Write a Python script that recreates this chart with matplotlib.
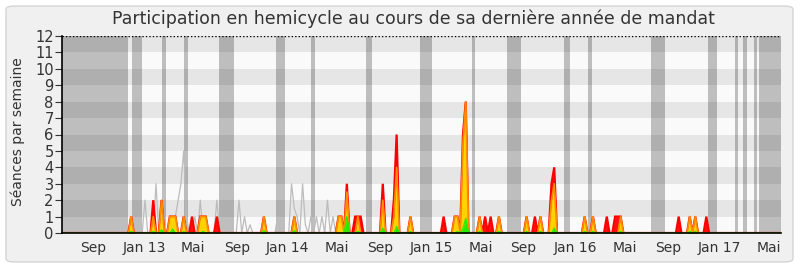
import numpy as np
import matplotlib
matplotlib.use("Agg")
import matplotlib.pyplot as plt
from matplotlib.patches import FancyBboxPatch

# ---- data (weekly values, week index since start of the mandate) ----
n_weeks = 261

presence_weeks = [25, 33, 36, 39, 40, 41, 44, 47, 50, 51, 52, 56,
                  73, 84, 100, 101, 103, 106, 107, 108,
                  116, 120, 121, 126, 138, 142, 143, 145, 146, 151, 153, 155, 158,
                  168, 171, 173, 177, 178, 189, 192, 197, 200, 201, 202,
                  223, 227, 229, 233]
presence_vals = [1, 2, 2, 1, 1, 1, 1, 1, 1, 1, 1, 1,
                 1, 1, 1, 1, 3, 1, 1, 1,
                 3, 2, 6, 1, 1, 1, 1, 6, 8, 1, 1, 1, 1,
                 1, 1, 1, 3, 4, 1, 1, 1, 1, 1, 1,
                 1, 1, 1, 1]

interv_weeks = [25, 33, 36, 39, 40, 41, 44, 50, 51, 52,
                73, 84, 100, 101, 103, 107,
                116, 120, 121, 126, 142, 143, 145, 146, 151, 158,
                168, 173, 177, 178, 189, 192, 202, 227, 229]
interv_vals = [1, 1, 2, 1, 1, 1, 1, 1, 1, 1,
               1, 1, 1, 1, 2.5, 1,
               2, 1, 4, 1, 1, 1, 5.5, 8, 1, 1,
               1, 1, 2, 3, 1, 1, 1, 1, 1]

short_weeks = [25, 33, 36, 40, 44, 51, 73, 84, 103, 107, 116, 121, 126,
               143, 145, 146, 151, 158, 168, 173, 178, 189, 192, 202, 227, 229]
short_vals = [0.1, 0.1, 0.2, 0.25, 0.1, 0.1, 0.15, 0.15, 1, 0.1, 0.3, 0.4, 0.1,
              0.1, 0.3, 0.9, 0.1, 0.1, 0.1, 0.1, 0.3, 0.1, 0.1, 0.1, 0.1, 0.1]

median_weeks = [30, 34, 41, 42, 43, 44, 45, 48, 50, 56, 64, 66, 68,
                78, 83, 84, 85, 87, 88, 90, 92, 94, 96, 98]
median_vals = [2, 3, 1, 2, 3, 5, 1, 1, 2, 2, 2, 1, 0.5,
               1, 3, 1.5, 1, 3, 0.5, 1, 1, 1, 2, 1]

# parliamentary breaks / out-of-mandate periods (start week, end week)
breaks = [(0, 23.9), (25.3, 28.9), (36.2, 37.6), (44.1, 45.6), (56.8, 62.2),
          (77.4, 80.7), (90.1, 91.5), (110, 112.2), (129.5, 133.8), (148.3, 149.4),
          (160.9, 166), (181.6, 183.7), (190.2, 191.7), (213, 218), (233.6, 236.9),
          (243.4, 244.5), (246.3, 247.7), (250.3, 251.4), (252.1, 260)]

tick_labels = ["Sep", "Jan 13", "Mai", "Sep", "Jan 14", "Mai", "Sep", "Jan 15",
               "Mai", "Sep", "Jan 16", "Mai", "Sep", "Jan 17", "Mai"]
tick_weeks = [11.2, 29.7, 47.4, 63.3, 81.6, 99.5, 115.2, 133.5,
              151.5, 166.7, 185.5, 203.6, 219.2, 237.6, 255.5]


def weekly(weeks, vals):
    arr = np.zeros(n_weeks)
    arr[np.array(weeks)] = vals
    return arr


x = np.arange(n_weeks)
presence = weekly(presence_weeks, presence_vals)
interv = weekly(interv_weeks, interv_vals)
short = weekly(short_weeks, short_vals)
median = weekly(median_weeks, median_vals)

# ---- figure ----
fig = plt.figure(figsize=(8, 2.67), dpi=100)
fig.patch.set_facecolor("white")
panel = FancyBboxPatch((6 / 800, 5 / 267), 787 / 800, 256 / 267,
                       boxstyle="round,pad=0,rounding_size=0.012",
                       transform=fig.transFigure, facecolor="#f0f0f0",
                       edgecolor="#d4d4d4", linewidth=1, zorder=-10)
fig.patches.append(panel)

ax = fig.add_axes([62 / 800, 34 / 267, 719 / 800, 197 / 267])
ax.set_xlim(0, 260)
ax.set_ylim(0, 12)

# horizontal stripes
for k in range(12):
    ax.axhspan(k, k + 1, color="#e6e6e6" if k % 2 else "#fafafa", lw=0, zorder=0)

# breaks
for a, b in breaks:
    ax.axvspan(a, b, color="black", alpha=0.24, lw=0, zorder=1)

ax.plot(x, median, color="#bcbcbc", lw=0.9, zorder=2)

ax.fill_between(x, 0, presence, color="#ff1010", lw=0, zorder=3)
ax.plot(x, presence, color="#ff0000", lw=1.6, zorder=3, solid_joinstyle="miter")
ax.fill_between(x, 0, interv, color="#ffd200", lw=0, zorder=4)
ax.plot(x, interv, color="#ff8c00", lw=1.2, zorder=4)
ax.fill_between(x, 0, short, color="#22ee00", lw=0, zorder=5)
ax.plot(x, short, color="#22ee00", lw=0.8, zorder=5)

ax.axhline(12, color="black", lw=1, ls=(0, (1, 1.5)), zorder=6)

for s in ["top", "right"]:
    ax.spines[s].set_visible(False)
for s in ["left", "bottom"]:
    ax.spines[s].set_color("black")
    ax.spines[s].set_linewidth(1.2)
    ax.spines[s].set_zorder(7)

ax.set_yticks(range(13))
ax.set_xticks(tick_weeks)
ax.set_xticklabels(tick_labels)
ax.tick_params(axis="y", length=5, width=0.8, color="#333333",
               labelsize=10.5, labelcolor="#333333", pad=1)
ax.tick_params(axis="x", length=0, labelsize=10, labelcolor="#333333", pad=6)

fig.text(18 / 800, 1 - 132 / 267, "Séances par semaine", rotation=90,
         ha="center", va="center", fontsize=10, color="#333333")
fig.text(413 / 800, 1 - 19 / 267,
         "Participation en hemicycle au cours de sa dernière année de mandat",
         ha="center", va="center", fontsize=12.5, color="#333333")

fig.savefig("out.png", dpi=100, facecolor=fig.get_facecolor())
